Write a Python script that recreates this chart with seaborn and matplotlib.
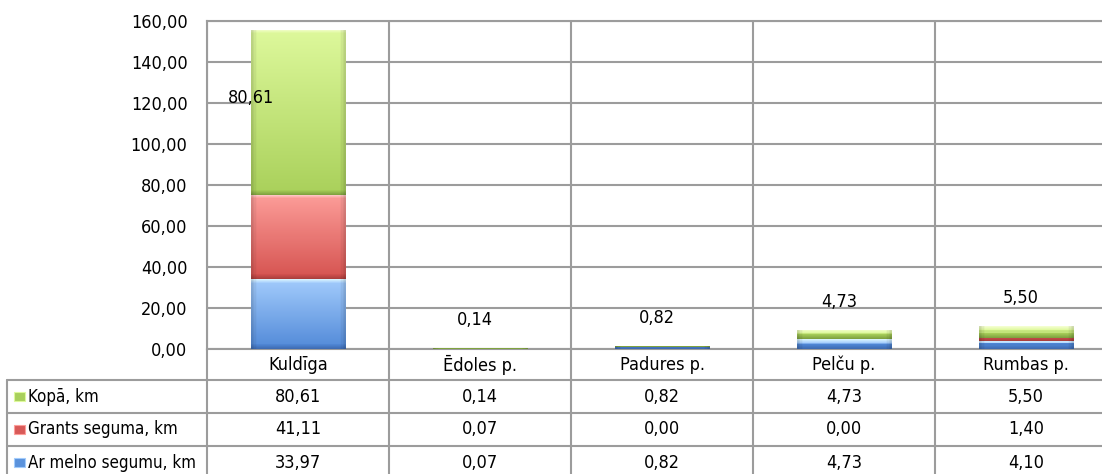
import numpy as np
import pandas as pd
import matplotlib
matplotlib.use("Agg")
import matplotlib.pyplot as plt
import seaborn as sns
from matplotlib import font_manager as fm
from matplotlib.transforms import blended_transform_factory
from matplotlib.patches import Rectangle
from matplotlib.colors import to_rgb

# ---------------- data ----------------
categories = ["Kuldīga", "Ēdoles p.", "Padures p.", "Pelču p.", "Rumbas p."]
ar_melno = [33.97, 0.07, 0.82, 4.73, 4.10]
grants = [41.11, 0.07, 0.00, 0.00, 1.40]
kopa = [80.61, 0.14, 0.82, 4.73, 5.50]
series_names = ["Ar melno segumu, km", "Grants seguma, km", "Kopā, km"]
y_ticks = [0, 20, 40, 60, 80, 100, 120, 140, 160]

def fmt(v):
    return f"{v:.2f}".replace(".", ",")

# ---------------- style ----------------
sns.set_theme(style="white")
fonts = fm.fontManager.ttflist
names = {f.name for f in fonts}
if "Liberation Sans Narrow" in names:
    plt.rcParams["font.family"] = ["Liberation Sans Narrow", "DejaVu Sans"]
elif any(f.name == "DejaVu Sans" and "condensed" in str(f.stretch) for f in fonts) or \
        any(f.name == "DejaVu Sans" and str(f.stretch).isdigit() and int(f.stretch) < 500 for f in fonts):
    plt.rcParams["font.family"] = ["DejaVu Sans"]
    plt.rcParams["font.stretch"] = "condensed"
else:
    plt.rcParams["font.family"] = ["Liberation Sans", "DejaVu Sans"]
plt.rcParams["text.color"] = "black"
plt.rcParams["ytick.color"] = "black"
plt.rcParams["xtick.color"] = "black"
FS = 13
FS_ROW = 12.2
GRID = "#9c9c9c"
LW = 1.5

W, H = 1102, 474
fig = plt.figure(figsize=(W / 100, H / 100), dpi=100)
ax = fig.add_axes([207 / W, 1 - 349 / H, (1117 - 207) / W, (349 - 21) / H])
PX_PER_UNIT = (349 - 21) / 160

series_vals = [ar_melno, grants, kopa]
base_cols = ["#4f81bd", "#c0504d", "#9bbb59"]
# (highlight, body top, body bottom, bottom edge)
grad_stops = [
    ["#dff8ff", "#a3ccfc", "#5189d8", "#3c69b0"],
    ["#ffdcdc", "#fd9e9a", "#d5524f", "#a83d3b"],
    ["#f6ffd6", "#def99c", "#a9d05a", "#7c9e3e"],
]
legend_cols = ["#5a92dc", "#d85a58", "#a8cf5c"]

bottoms = np.zeros(len(categories))
seg_patches = []
for vals, col, stops in zip(series_vals, base_cols, grad_stops):
    n_before = len(ax.patches)
    sns.barplot(x=categories, y=vals, order=categories, color=col,
                saturation=1, width=0.52, ax=ax, errorbar=None,
                linewidth=0, zorder=3)
    new = ax.patches[n_before:]
    for p, b in zip(new, bottoms):
        p.set_y(b)
        seg_patches.append((p, stops))
    bottoms = bottoms + np.array(vals)

def make_grad(stops, hpx, nx=60):
    c = np.array([to_rgb(s) for s in stops])
    ny = max(int(round(hpx)), 2)
    d = np.arange(ny) + 0.5
    img = np.zeros((ny, 3))
    for k in range(3):
        body = np.interp(d, [0, ny], [c[1, k], c[2, k]])
        top = np.interp(d, [0, 4], [c[0, k], c[1, k]])
        bot = np.interp(d, [ny - 5, ny], [c[2, k], c[3, k]])
        col = np.where(d < 4, top, body)
        col = np.where(d > ny - 5, bot, col)
        img[:, k] = col
    img = np.repeat(img[:, None, :], nx, axis=1)
    xs = np.linspace(0, 1, nx)
    edge = np.clip(np.minimum(xs, 1 - xs) / 0.06, 0, 1)
    fac = 0.86 + 0.14 * edge
    return np.clip(img * fac[None, :, None], 0, 1)

for p, stops in seg_patches:
    if p.get_height() <= 0:
        continue
    x0 = p.get_x(); w = p.get_width(); y0 = p.get_y(); h = p.get_height()
    im = ax.imshow(make_grad(stops, h * PX_PER_UNIT), extent=[x0, x0 + w, y0, y0 + h],
                   origin="upper", aspect="auto", zorder=4, interpolation="nearest")
    im.set_clip_path(p)

ax.set_xlim(-0.5, len(categories) - 0.5)
ax.set_ylim(0, 160)
ax.set_yticks(y_ticks)
ax.set_yticklabels([fmt(v) for v in y_ticks], fontsize=FS)
ax.set_xticks([])
ax.set_xticks(np.arange(len(categories) + 1) - 0.5, minor=True)
ax.tick_params(axis="y", length=0, pad=14, colors="black")
ax.tick_params(axis="x", which="both", length=0, labelbottom=False)
ax.set_xlabel("")
ax.set_ylabel("")
ax.grid(True, axis="y", color=GRID, lw=LW, zorder=0)
ax.grid(True, axis="x", which="minor", color=GRID, lw=LW, zorder=0)
ax.set_axisbelow(True)
for s in ax.spines.values():
    s.set_color(GRID)
    s.set_linewidth(LW)

kb = np.array(ar_melno) + np.array(grants)
for i, v in enumerate(kopa):
    if v > 20:
        ax.text(i - 0.26, kb[i] + v / 2 + 7, fmt(v), ha="center", va="center",
                fontsize=FS, zorder=6, color="black")
    else:
        ax.annotate(fmt(v), xy=(i, kb[i] + v), xytext=(-5, 28),
                    textcoords="offset pixels", ha="center", va="center",
                    fontsize=FS, zorder=6, color="black")

# ---------------- data table ----------------
bt = blended_transform_factory(ax.transData, fig.transFigure)
fy = lambda py: 1 - py / H
fx = lambda px: px / W
row_lines = [380, 413, 446, 479]
row_centers = [396.5, 429.5, 462.5]

for b in np.arange(len(categories) + 1) - 0.5:
    ax.plot([b, b], [fy(349), fy(H + 10)], transform=bt, color=GRID, lw=LW,
            clip_on=False, solid_capstyle="butt")
for ry in row_lines:
    fig.add_artist(plt.Line2D([fx(7), 1.0], [fy(ry), fy(ry)], color=GRID, lw=LW,
                              transform=fig.transFigure))
fig.add_artist(plt.Line2D([fx(7), fx(7)], [fy(380), fy(H + 10)], color=GRID, lw=LW,
                          transform=fig.transFigure))

for i, c in enumerate(categories):
    ax.text(i, fy(364.5), c, transform=bt, ha="center", va="center", fontsize=FS,
            color="black")

rows = [(series_names[2], kopa, 2),
        (series_names[1], grants, 1),
        (series_names[0], ar_melno, 0)]
for (name, vals, k), cy in zip(rows, row_centers):
    fig.add_artist(Rectangle((fx(14), fy(cy + 4.5)), 11 / W, 9 / H,
                             facecolor=legend_cols[k], edgecolor=grad_stops[k][1], lw=0.8,
                             transform=fig.transFigure))
    fig.text(fx(28), fy(cy), name, ha="left", va="center", fontsize=FS_ROW, color="black")
    for i, v in enumerate(vals):
        ax.text(i, fy(cy), fmt(v), transform=bt, ha="center", va="center", fontsize=FS,
                color="black")

fig.savefig("out.png", dpi=100)
